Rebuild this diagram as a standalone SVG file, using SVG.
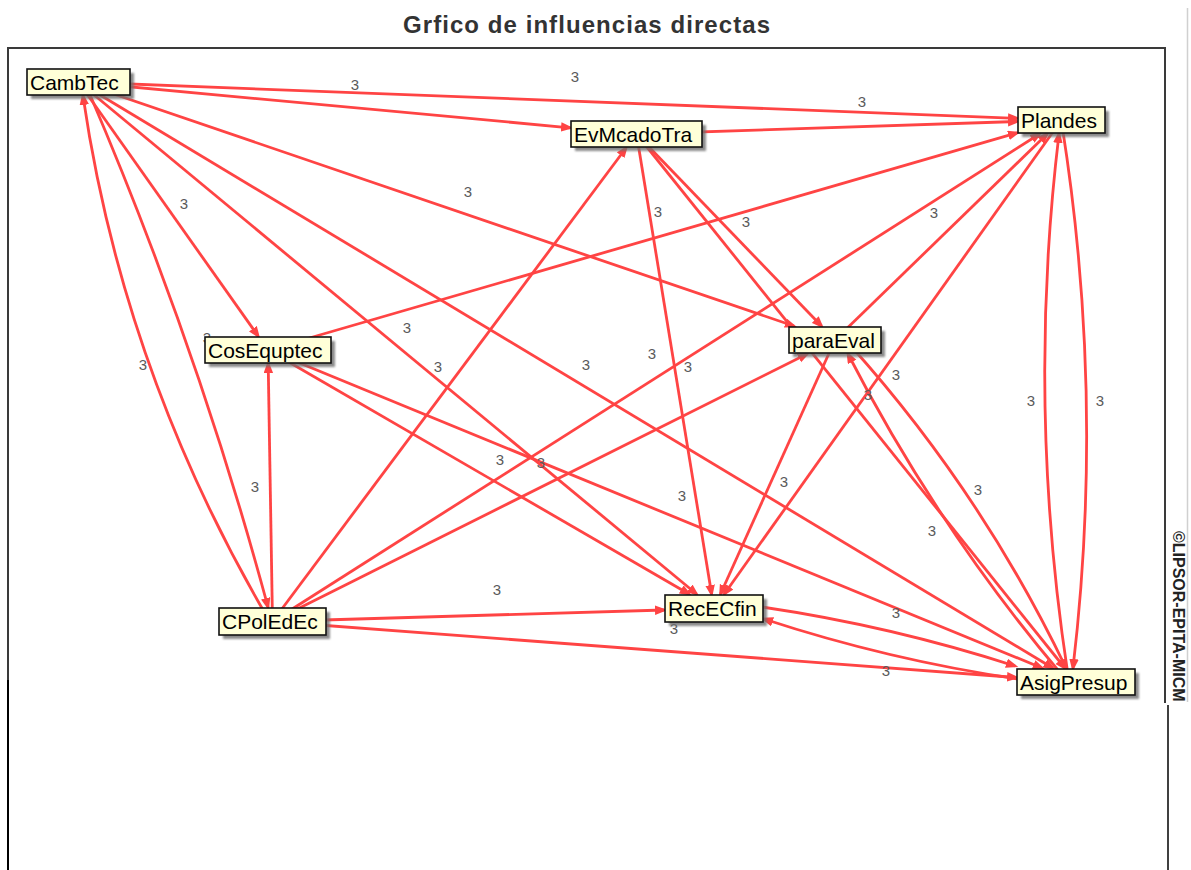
<svg xmlns="http://www.w3.org/2000/svg" width="1191" height="870" viewBox="0 0 1191 870">
<style>
.e{fill:none;stroke:#ff4444;stroke-width:2.8;marker-end:url(#ah)}
.lb{font-family:"Liberation Sans",Arial,sans-serif;font-size:15px;fill:#5a5a5a;text-anchor:middle}
.box{fill:#ffffd8;stroke:#111;stroke-width:1.6}
.sh{fill:#6e6e6e;opacity:.8;filter:url(#blur)}
.nt{font-family:"Liberation Sans",Arial,sans-serif;font-size:21px;fill:#000}
.fr{stroke:#3a3a3a;stroke-width:2;fill:none}
</style>
<defs>
<marker id="ah" markerUnits="userSpaceOnUse" markerWidth="13" markerHeight="10" refX="9" refY="4.75" orient="auto">
<path d="M0,0 L12.5,4.75 L0,9.5 z" fill="#ff4444"/>
</marker>
<filter id="blur" x="-10%" y="-30%" width="120%" height="160%"><feGaussianBlur stdDeviation="1.2"/></filter>
<clipPath id="clipcopy"><rect x="1168" y="500" width="20" height="202"/></clipPath>
</defs>
<rect x="0" y="0" width="1191" height="870" fill="#fff"/>
<text x="403" y="33" font-family="'Liberation Sans',Arial,sans-serif" font-weight="bold" font-size="24" fill="#333" textLength="367" lengthAdjust="spacing">Grfico de influencias directas</text>
<g id="frame">
<path class="fr" d="M8,700 V48 H1165 V703"/>
<line x1="8" y1="680" x2="8" y2="870" stroke="#000" stroke-width="2"/>
<line x1="1168" y1="705" x2="1168" y2="870" stroke="#000" stroke-width="1.5"/>
<line x1="1187.5" y1="8" x2="1187.5" y2="702" stroke="#d0d0d0" stroke-width="1.5"/>
<g clip-path="url(#clipcopy)">
<text transform="translate(1173,531) rotate(90)" font-family="'Liberation Sans',Arial,sans-serif" font-weight="bold" font-size="16" fill="#222">©LIPSOR-EPITA-MICMAC</text>
</g>
</g>
<g id="connectors">
<path class="e" d="M78.5,82 L570,127.8"/>
<path class="e" d="M78.5,82 L1017,118.3"/>
<path class="e" d="M636.5,134 L1017,121.5"/>
<path class="e" d="M78.5,82 L258.1,336"/>
<path class="e" d="M78.5,82 L793.9,326"/>
<path class="e" d="M268,350 L1017,132.9"/>
<path class="e" d="M636.5,134 L821.5,326"/>
<path class="e" d="M835,340 L1047.1,134"/>
<path class="e" d="M78.5,82 L696.5,594"/>
<path class="e" d="M272.5,621.5 L626,148"/>
<path class="e" d="M78.5,82 L1052.7,668"/>
<path class="e" d="M272.5,621.5 L1039.5,134"/>
<path class="e" d="M636.5,134 L711.6,594"/>
<path class="e" d="M1061.5,120 L724.3,594"/>
<path class="e" d="M636.5,134 L1064.8,668"/>
<path class="e" d="M272.5,621.5 L268.2,364"/>
<path class="e" d="M268,350 L689,594"/>
<path class="e" d="M272.5,621.5 L807,354"/>
<path class="e" d="M268,350 L1041.9,668"/>
<path class="e" d="M835,340 L720.5,594"/>
<path class="e" d="M272.5,621.5 L664,610"/>
<path class="e" d="M272.5,621.5 L1016,677.5"/>
<path class="e" d="M266,615 Q123,370 83,96"/>
<path class="e" d="M88,90 Q197,344 268,607"/>
<path class="e" d="M1068,675 Q1026.5,404.5 1059,134"/>
<path class="e" d="M1062,125 Q1105,396.5 1073,668"/>
<path class="e" d="M850,345 Q981,491 1066,668"/>
<path class="e" d="M1062,675 Q937,527 848,354"/>
<path class="e" d="M755,606 Q888,625 1015,666"/>
<path class="e" d="M1025,680 Q892,661 764,619"/>
<g id="labels">
<text class="lb" x="355" y="90">3</text>
<text class="lb" x="575" y="82">3</text>
<text class="lb" x="862" y="107">3</text>
<text class="lb" x="184" y="209">3</text>
<text class="lb" x="468" y="197">3</text>
<text class="lb" x="658" y="217">3</text>
<text class="lb" x="746" y="227">3</text>
<text class="lb" x="934" y="218">3</text>
<text class="lb" x="207" y="343">3</text>
<text class="lb" x="143" y="370">3</text>
<text class="lb" x="407" y="333">3</text>
<text class="lb" x="438" y="372">3</text>
<text class="lb" x="586" y="370">3</text>
<text class="lb" x="652" y="359">3</text>
<text class="lb" x="688" y="372">3</text>
<text class="lb" x="896" y="380">3</text>
<text class="lb" x="868" y="400">3</text>
<text class="lb" x="1031" y="406">3</text>
<text class="lb" x="1100" y="406">3</text>
<text class="lb" x="255" y="492">3</text>
<text class="lb" x="500" y="465">3</text>
<text class="lb" x="541" y="468">3</text>
<text class="lb" x="682" y="501">3</text>
<text class="lb" x="784" y="487">3</text>
<text class="lb" x="978" y="495">3</text>
<text class="lb" x="932" y="536">3</text>
<text class="lb" x="497" y="595">3</text>
<text class="lb" x="896" y="618">3</text>
<text class="lb" x="674" y="634">3</text>
<text class="lb" x="886" y="676">3</text>
</g>
</g>
<g id="CambTec"><rect class="sh" x="31" y="73" width="103" height="26"/><rect class="box" x="27" y="69" width="103" height="26"/><text class="nt" x="30" y="90">CambTec</text></g>
<g id="EvMcadoTra"><rect class="sh" x="575" y="125" width="131" height="26"/><rect class="box" x="571" y="121" width="131" height="26"/><text class="nt" x="574" y="142">EvMcadoTra</text></g>
<g id="Plandes"><rect class="sh" x="1022" y="111" width="87" height="26"/><rect class="box" x="1018" y="107" width="87" height="26"/><text class="nt" x="1021" y="128">Plandes</text></g>
<g id="CosEquptec"><rect class="sh" x="209" y="341" width="126" height="26"/><rect class="box" x="205" y="337" width="126" height="26"/><text class="nt" x="208" y="358">CosEquptec</text></g>
<g id="paraEval"><rect class="sh" x="793" y="331" width="92" height="26"/><rect class="box" x="789" y="327" width="92" height="26"/><text class="nt" x="792" y="348">paraEval</text></g>
<g id="CPolEdEc"><rect class="sh" x="223" y="612" width="107" height="27"/><rect class="box" x="219" y="608" width="107" height="27"/><text class="nt" x="222" y="629">CPolEdEc</text></g>
<g id="RecECfin"><rect class="sh" x="669" y="599" width="98" height="27"/><rect class="box" x="665" y="595" width="98" height="27"/><text class="nt" x="668" y="616">RecECfin</text></g>
<g id="AsigPresup"><rect class="sh" x="1021" y="673" width="118" height="26"/><rect class="box" x="1017" y="669" width="118" height="26"/><text class="nt" x="1020" y="690">AsigPresup</text></g>
</svg>
